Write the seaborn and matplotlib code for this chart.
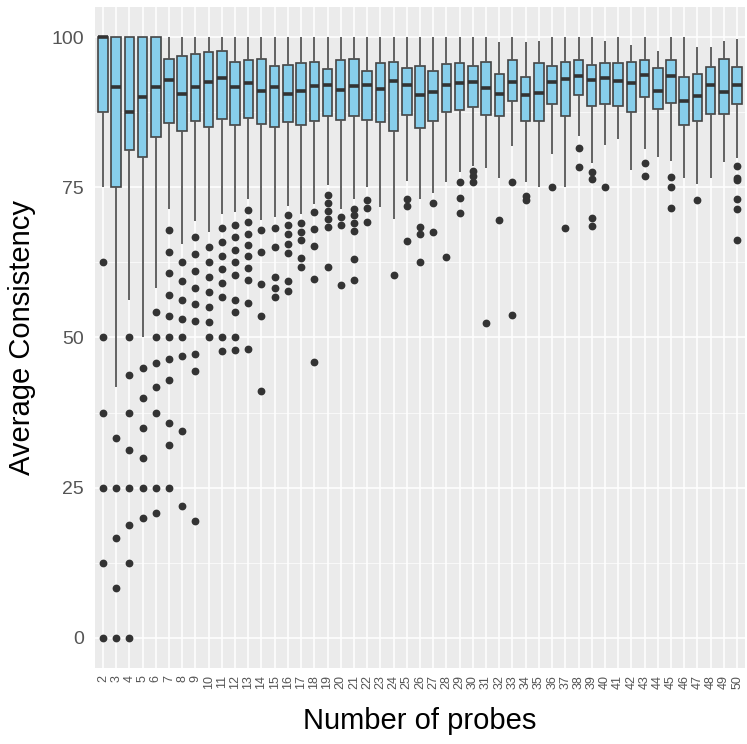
import pandas as pd
import numpy as np
import matplotlib
matplotlib.use("Agg")
import matplotlib.pyplot as plt
import seaborn as sns

# number of probes (x categories)
probes = list(range(2, 51))

# box statistics (Average Consistency, %)
q1 = [87.5, 75.0, 81.25, 80.0, 83.3, 85.7, 84.3, 86.0, 85.0, 86.4,
      85.4, 86.5, 85.6, 85.0, 85.8, 85.3, 86.1, 86.8, 86.2, 86.8,
      86.2, 85.8, 84.3, 87.1, 84.9, 86.1, 87.5, 87.9, 88.4, 87.1,
      86.8, 89.4, 86.0, 86.0, 88.8, 86.9, 90.4, 88.6, 88.8, 88.5,
      87.5, 90.0, 88.0, 89.1, 85.3, 86.1, 87.2, 87.2, 88.9]
med = [100.0, 91.7, 87.5, 90.0, 91.7, 92.9, 90.6, 91.7, 92.5, 93.2,
       91.7, 92.3, 91.1, 91.7, 90.6, 91.1, 91.8, 92.1, 91.2, 91.8,
       92.1, 91.3, 92.7, 92.1, 90.4, 90.8, 92.0, 92.3, 92.6, 91.6,
       90.6, 92.5, 90.4, 90.7, 92.5, 93.0, 93.5, 92.9, 93.2, 92.7,
       92.3, 93.6, 91.1, 93.5, 89.4, 90.2, 92.0, 90.8, 92.1]
q3 = [100.0, 100.0, 100.0, 100.0, 100.0, 96.4, 96.9, 97.2, 97.5, 97.7,
      95.8, 96.2, 96.4, 95.1, 95.3, 95.6, 95.8, 94.7, 96.2, 96.3,
      94.3, 95.6, 95.8, 94.9, 95.1, 94.4, 95.5, 95.6, 95.1, 95.8,
      93.9, 96.2, 93.3, 95.7, 95.1, 95.8, 96.1, 95.4, 95.6, 95.7,
      95.8, 96.2, 94.8, 96.1, 93.3, 93.9, 95.0, 96.4, 95.0]
whisker_lo = [75.0, 41.7, 56.25, 50.1, 58.3, 71.4, 65.6, 69.4, 67.5, 70.5,
              70.8, 73.1, 69.6, 70.0, 71.9, 70.6, 72.2, 75.4, 71.4, 73.0,
              75.0, 71.7, 69.8, 76.0, 73.1, 74.0, 75.9, 77.6, 78.5, 78.2,
              76.5, 81.8, 75.8, 75.0, 80.5, 75.0, 83.6, 79.0, 82.0, 83.0,
              77.9, 81.4, 80.1, 79.4, 76.6, 75.5, 76.5, 79.2, 79.9]
whisker_hi = [100, 100, 100, 100, 100, 100, 100, 100, 100, 100,
              100, 100, 100, 100, 100, 100, 100, 100, 100, 100,
              100, 100, 100, 100, 100, 100, 100, 100, 100, 100,
              99.2, 100, 99.2, 99.3, 100, 100, 100, 100, 99.3, 100,
              98.7, 100, 97.7, 100, 100, 98.3, 98.3, 99.4, 99.6]
outliers = [
    [62.5, 50, 37.5, 25, 12.5, 0],
    [33.3, 25, 16.7, 8.3, 0],
    [50, 43.75, 37.5, 31.25, 25, 18.75, 12.5, 0],
    [45, 40, 35, 30, 25, 20],
    [54.2, 50, 45.8, 41.7, 37.5, 25, 20.8],
    [67.9, 64.3, 60.7, 57.1, 53.6, 50, 46.4, 42.9, 35.7, 32.1, 25],
    [62.5, 59.4, 56.25, 53.1, 50, 46.9, 34.4, 21.9],
    [66.7, 63.9, 61.1, 58.3, 55.6, 52.8, 47.2, 44.4, 19.4],
    [65, 62.5, 60, 57.5, 55, 52.5, 50],
    [68.2, 65.9, 63.6, 61.4, 59.1, 56.8, 50, 47.7],
    [68.8, 66.7, 64.6, 62.5, 60.4, 56.3, 54.2, 50, 47.9],
    [71.2, 69.2, 67.3, 65.4, 63.5, 61.5, 59.6, 55.8, 48.1],
    [67.9, 64.3, 58.9, 53.6, 41.1],
    [68.3, 65, 60, 58.3, 56.7],
    [70.3, 68.75, 67.2, 65.6, 64.1, 59.4, 57.8],
    [69.1, 67.6, 66.2, 63.2, 61.8],
    [70.8, 68.1, 65.3, 59.7, 45.9],
    [73.7, 72.4, 71.05, 69.7, 68.4, 61.8],
    [70.0, 68.7, 58.8],
    [71.4, 70.3, 69.0, 67.8, 63.1, 59.5],
    [72.8, 71.5, 69.3],
    [],
    [60.4],
    [73.1, 71.9, 66.0],
    [68.4, 67.2, 62.5],
    [72.3, 67.6],
    [63.4],
    [75.9, 73.2, 70.7],
    [77.7, 76.8, 75.9],
    [52.4],
    [69.5],
    [75.8, 53.8],
    [73.6, 72.8],
    [],
    [75.0],
    [68.2],
    [81.6, 78.3],
    [77.6, 76.3, 69.9, 68.5],
    [75.0],
    [],
    [],
    [79.1, 76.8],
    [],
    [76.7, 75.0, 71.6],
    [],
    [72.9],
    [],
    [],
    [78.5, 76.6, 76.2, 73.0, 71.3, 66.3],
]

# rebuild a sample per category that reproduces the read box statistics
rows = []
for i, p in enumerate(probes):
    m = len(outliers[i]) + 2
    vals = (list(outliers[i]) + [whisker_lo[i]] + [q1[i]] * m + [med[i]] * m
            + [q3[i]] * m + [whisker_hi[i]])
    rows += [(p, v) for v in vals]
df = pd.DataFrame(rows, columns=["probes", "consistency"])

sns.set_theme(style="darkgrid", rc={
    "axes.facecolor": "#EBEBEB",
    "grid.color": "white",
    "grid.linewidth": 1.1,
})
plt.rcParams["font.family"] = ["Liberation Sans", "DejaVu Sans"]

fig = plt.figure(figsize=(7.47, 7.44), dpi=100)
ax = fig.add_axes([0.1272, 0.1022, 0.8701, 0.8884])

sns.boxplot(data=df, x="probes", y="consistency", ax=ax, color="#87CEEB",
            saturation=1, width=0.72, linewidth=1.2, linecolor="#444444",
            whis=1.5, fliersize=4.6,
            medianprops=dict(color="#333333", linewidth=2.6),
            whiskerprops=dict(color="#555555", linewidth=1.3),
            capprops=dict(linewidth=0),
            flierprops=dict(marker="o", markerfacecolor="#333333",
                            markeredgecolor="#333333", markersize=4.6))

ax.set_xlim(-0.6, len(probes) - 0.4)
ax.set_ylim(-5, 105)
ax.set_yticks([0, 25, 50, 75, 100])
ax.set_yticks([12.5, 37.5, 62.5, 87.5], minor=True)
ax.grid(which="minor", axis="y", color="white", linewidth=0.5)
ax.grid(which="major", color="white", linewidth=1.1)
ax.set_axisbelow(True)
for s in ax.spines.values():
    s.set_visible(False)

ax.tick_params(axis="y", which="major", length=3, width=0.8, color="#333333",
               pad=5, labelsize=14, labelcolor="#555555")
ax.tick_params(axis="y", which="minor", length=0)
ax.tick_params(axis="x", length=3, width=0.8, color="#333333", pad=2,
               labelsize=9, labelcolor="#555555", labelrotation=90)

ax.set_xlabel("Number of probes", fontsize=21, color="black", labelpad=13)
ax.set_ylabel("Average Consistency", fontsize=21, color="black", labelpad=11)

fig.savefig("out.png", dpi=100)
